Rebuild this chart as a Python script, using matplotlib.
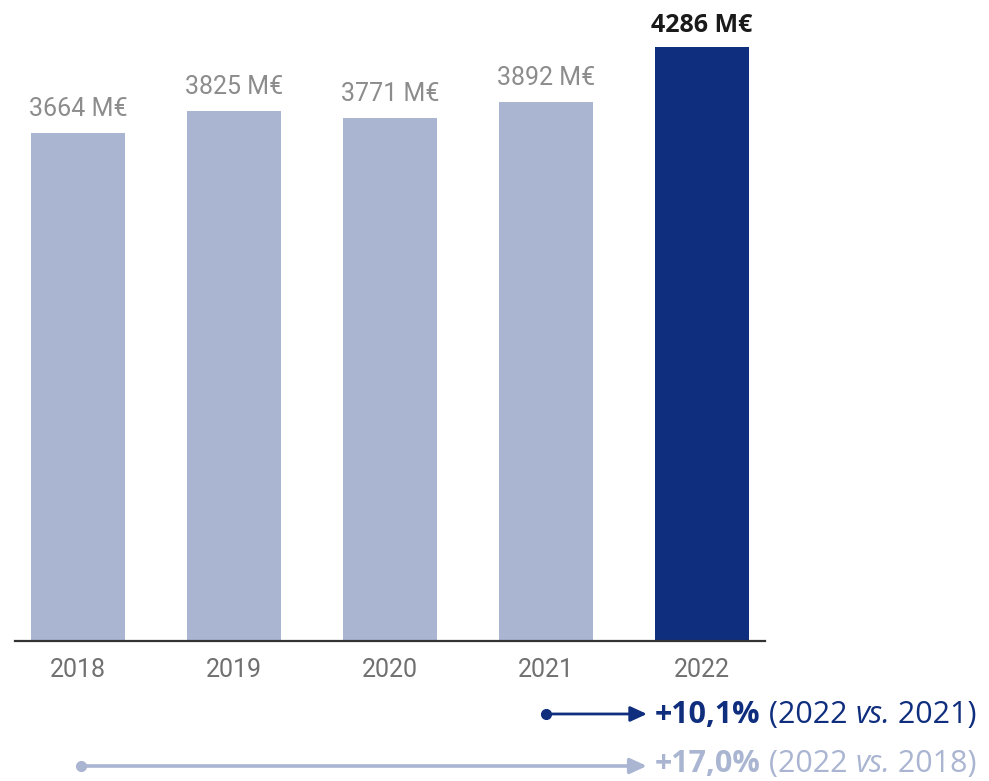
import matplotlib

matplotlib.use("Agg")
import matplotlib.pyplot as plt
import matplotlib.transforms as mtransforms

years = ["2018", "2019", "2020", "2021", "2022"]
revenue = [3664, 3825, 3771, 3892, 4286]
labels = [f"{v} M€" for v in revenue]

growth_short = "+10,1%"
growth_short_ref = ("2022", "2021")
growth_long = "+17,0%"
growth_long_ref = ("2022", "2018")

LIGHT = "#aab5d2"
DARK = "#102e7e"

fig = plt.figure(figsize=(9.89, 7.81), dpi=100)
ax = fig.add_axes([15 / 989, 140 / 781, 750 / 989, 623.7 / 781])

x = list(range(len(years)))
colors = [LIGHT] * (len(years) - 1) + [DARK]
ax.bar(x, revenue, width=0.6, color=colors)

ax.set_xlim(-0.404, len(years) - 1 + 0.404)
ax.set_ylim(0, 4500)

# value labels on top of bars
for i, (v, lab) in enumerate(zip(revenue, labels)):
    if i == len(years) - 1:
        ax.annotate(lab, xy=(i, v), xytext=(0, 9), textcoords="offset pixels",
                    ha="center", va="bottom", fontsize=18, fontweight="bold",
                    family="Open Sans", color="#1a1a1a")
    else:
        ax.annotate(lab, xy=(i, v), xytext=(0, 12), textcoords="offset pixels",
                    ha="center", va="bottom", fontsize=18, family="Roboto",
                    color="#8c8c8c")

ax.set_xticks(x)
ax.set_xticklabels(years, fontsize=18, family="Roboto", color="#707070")
ax.tick_params(axis="x", length=0, pad=12)
ax.set_yticks([])

for side in ["top", "right", "left"]:
    ax.spines[side].set_visible(False)
ax.spines["bottom"].set_linewidth(1.6)
ax.spines["bottom"].set_color("#333333")

trans = mtransforms.blended_transform_factory(ax.transData, ax.transAxes)


def growth_row(start, y_line, y_base, pct, ref, color, lw):
    tip = len(years) - 1 - 0.353
    ax.annotate("", xy=(tip, y_line), xytext=(start, y_line),
                xycoords=trans, textcoords=trans,
                arrowprops=dict(arrowstyle="-|>,head_length=0.5,head_width=0.23",
                                color=color, lw=lw, shrinkA=0, shrinkB=0,
                                mutation_scale=20),
                annotation_clip=False)
    ax.plot([start], [y_line], "o", color=color, markersize=7,
            transform=trans, clip_on=False)
    t1 = ax.text(len(years) - 1 - 0.3, y_base, pct, transform=trans,
                 fontsize=22, fontweight="bold", family="Open Sans",
                 color=color, va="baseline", ha="left")
    t2 = ax.annotate(f" ({ref[0]} ", xy=(1, 0), xycoords=t1, va="bottom",
                     ha="left", fontsize=22, family="Open Sans", color=color)
    t3 = ax.annotate("vs.", xy=(1, 0), xycoords=t2, va="bottom", ha="left",
                     fontsize=22, family="Open Sans", style="italic",
                     color=color)
    ax.annotate(f" {ref[1]})", xy=(1, 0), xycoords=t3, va="bottom",
                ha="left", fontsize=22, family="Open Sans", color=color)


growth_row(3, -0.117, -0.1315, growth_short, growth_short_ref, DARK, 2.0)
growth_row(0.02, -0.2004, -0.2105, growth_long, growth_long_ref, LIGHT, 2.6)

plt.savefig("out.png", dpi=100)
plt.close(fig)
